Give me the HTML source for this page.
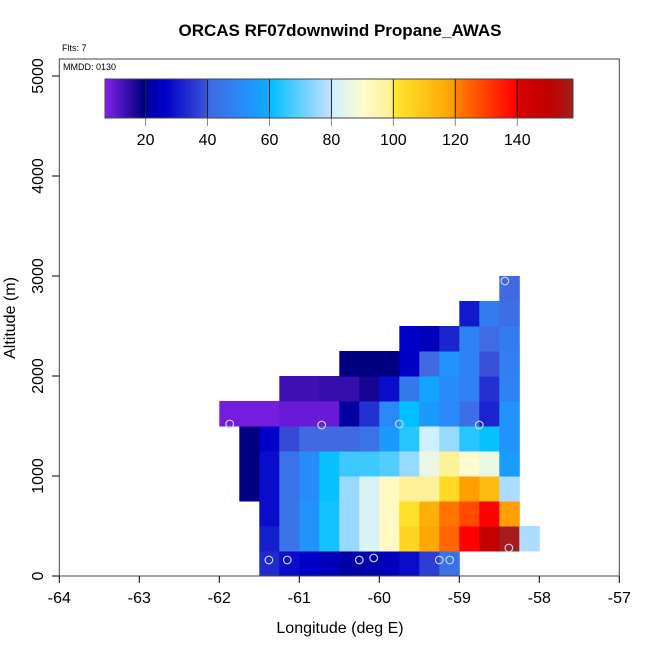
<!DOCTYPE html>
<html><head><meta charset="utf-8"><style>body{margin:0;background:#fff}svg{display:block;font-family:"Liberation Sans",sans-serif}</style></head>
<body>
<svg id="chart" width="650" height="650" viewBox="0 0 650 650">
<text x="340" y="36" text-anchor="middle" font-size="17" font-weight="bold">ORCAS RF07downwind Propane_AWAS</text>
<text x="62" y="51" font-size="9">Flts: 7</text>
<g id="cells"></g>
<g id="pts"></g>
<rect x="59.3" y="59" width="560" height="517" fill="none" stroke="#444" stroke-width="1"/>
<text x="63" y="70" font-size="9">MMDD: 0130</text>
<g id="cbar"></g>
<g id="axes"></g>
<text x="340" y="633" text-anchor="middle" font-size="16">Longitude (deg E)</text>
<text transform="translate(15,318) rotate(-90)" text-anchor="middle" font-size="16">Altitude (m)</text>
</svg>
<script>
const lonStart = -62, lonStep = 0.25;
const altStep = 250;
const row0 = [null,null,33,28,26,24,21,22,24,28,36,43];
const row1 = [null,null,31,43,53,62,75,82,92,105,117,124,139,148,157,77];
const row2 = [null,null,28,43,53,62,75,82,92,102,115,122,128,139,119];
const row3 = [null,19,28,43,51,61,75,82,92,98,98,104,119,112,77];
const row4 = [null,19,28,43,51,61,66,66,68,75,86,98,90,86,56];
const row5 = [null,19,26,38,40,40,40,43,55,64,80,75,64,61,53];
const row6 = [8,8,8,9,9,9,20,34,50,60,55,50,42,32,53];
const row7 = [null,null,null,13,13,14,14,17,28,45,58,51,48,34,48];
const row8 = [null,null,null,null,null,null,19,19,19,26,40,53,48,39,47];
const row9 = [null,null,null,null,null,null,null,null,null,26,24,32,48,41,46];
const row10 = [null,null,null,null,null,null,null,null,null,null,null,null,30,46,42];
const row11 = [null,null,null,null,null,null,null,null,null,null,null,null,null,null,40];
const rows = [row0,row1,row2,row3,row4,row5,row6,row7,row8,row9,row10,row11];
const ptLon = [-61.87,-60.72,-59.75,-58.75,-58.43,-61.38,-61.15,-60.25,-60.07,-59.25,-59.12,-58.38,-58.18];
const ptAlt = [1520,1510,1520,1510,2950,160,160,160,180,160,160,280,300];
const xTicks = [-64,-63,-62,-61,-60,-59,-58,-57];
const yTicks = [0,1000,2000,3000,4000,5000];
const cbTicks = [20,40,60,80,100,120,140];
const cbMin = 6.9, cbMax = 158;
const stops = [[6.9,'#8020e8'],[19,'#000080'],[20,'#0000a0'],[26,'#0000c8'],[39,'#3a50d8'],[40,'#4169e1'],[50,'#2a88f8'],[59,'#10a8ff'],[60,'#00bfff'],[79,'#c0e0ff'],[80,'#d0f0ff'],[90,'#fffcd0'],[99,'#fff090'],[100,'#ffe830'],[119,'#ffa000'],[120,'#ff8000'],[139,'#ff0000'],[140,'#d80000'],[150,'#c00000'],[158,'#a02020']];
const NS='http://www.w3.org/2000/svg';
const X = v => 59.3 + (v + 64) * 80;
const Y = v => 576 - v * 0.1;
const CB = v => 105 + (v - cbMin) / (cbMax - cbMin) * 468;
function hex(h){return [1,3,5].map(i=>parseInt(h.substr(i,2),16));}
function cmap(v){
  if(v<=stops[0][0])return stops[0][1];
  for(let i=1;i<stops.length;i++){if(v<=stops[i][0]){const a=stops[i-1],b=stops[i];const t=(v-a[0])/(b[0]-a[0]);const ca=hex(a[1]),cb=hex(b[1]);return 'rgb('+ca.map((c,k)=>Math.round(c+(cb[k]-c)*t)).join(',')+')';}}
  return stops[stops.length-1][1];
}
function mk(tag,attrs,parent){const e=document.createElementNS(NS,tag);for(const k in attrs)e.setAttribute(k,attrs[k]);parent.appendChild(e);return e;}
const cells=document.getElementById('cells');
rows.forEach((row,r)=>row.forEach((v,c)=>{
  if(v===null)return;
  const x0=X(lonStart+c*lonStep),x1=X(lonStart+(c+1)*lonStep),y0=Y((r+1)*altStep),y1=Y(r*altStep);
  const e=mk('rect',{x:x0,y:y0,width:x1-x0+0.5,height:y1-y0+0.5,fill:cmap(v)},cells);
  
  
}));
const pts=document.getElementById('pts');
ptLon.forEach((lo,i)=>{
  const e=mk('circle',{cx:X(lo),cy:Y(ptAlt[i]),r:3.8,fill:'none',stroke:'#d0d0ff','stroke-width':1.2},pts);
  
  
});
const cbar=document.getElementById('cbar');
for(let p=105;p<573;p+=2){
  const v=cbMin+(p-105)/468*(cbMax-cbMin);
  mk('rect',{x:p,y:79,width:2.3,height:39,fill:cmap(v)},cbar);
}
cbTicks.forEach(t=>{
  mk('line',{x1:CB(t),x2:CB(t),y1:79,y2:118,stroke:'#222','stroke-width':1},cbar);
  mk('line',{x1:CB(t),x2:CB(t),y1:118,y2:126,stroke:'#888','stroke-width':1},cbar);
  const e=mk('text',{x:CB(t),y:145,'text-anchor':'middle','font-size':16},cbar);
  e.textContent=t;
  
  
});
mk('rect',{x:105,y:79,width:468,height:39,fill:'none',stroke:'#444','stroke-width':1},cbar);
const axes=document.getElementById('axes');
xTicks.forEach(t=>{
  mk('line',{x1:X(t),x2:X(t),y1:576,y2:583,stroke:'#000'},axes);
  const e=mk('text',{x:X(t),y:603,'text-anchor':'middle','font-size':16},axes);
  e.textContent=t;
  
  
});
yTicks.forEach(t=>{
  mk('line',{x1:52,x2:59.3,y1:Y(t),y2:Y(t),stroke:'#000'},axes);
  const e=mk('text',{transform:'translate(43,'+Y(t)+') rotate(-90)','text-anchor':'middle','font-size':16},axes);
  e.textContent=t;
  
  
});
</script>
</body></html>
